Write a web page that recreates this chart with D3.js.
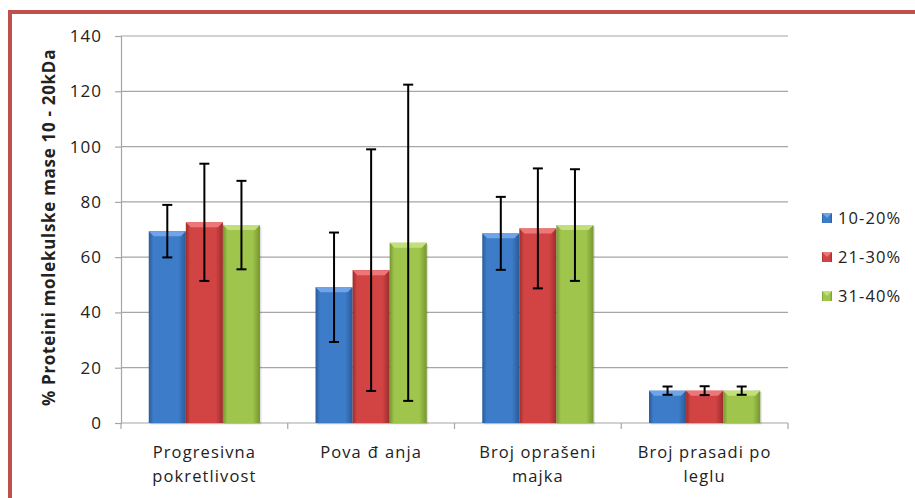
<!DOCTYPE html>
<html lang="sr">
<head>
<meta charset="UTF-8">
<title>Proteini molekulske mase 10 - 20kDa</title>
<script src="https://d3js.org/d3.v7.min.js"></script>
<style>
  body { margin: 0; background: #fff; font-family: "Open Sans", "Liberation Sans", sans-serif; }
  svg text { fill: #222; }
</style>
</head>
<body>
<script>
// data
const categories = ["Progresivna\npokretlivost", "Povađanja", "Broj oprašeni\nmajka", "Broj prasadi po\nleglu"];
const seriesNames = ["10-20%", "21-30%", "31-40%"];
const s1020 = [69.4, 49.1, 68.6, 11.7];
const s2130 = [72.6, 55.3, 70.4, 11.7];
const s3140 = [71.6, 65.2, 71.6, 11.7];
const err1020 = [9.5, 19.8, 13.2, 1.5];
const err2130 = [21.2, 43.7, 21.7, 1.6];
const err3140 = [16.0, 57.2, 20.2, 1.5];
const yTicks = [0, 20, 40, 60, 80, 100, 120, 140];

const W = 915, H = 498;
const plotL = 121, plotR = 788, plotT = 36, plotB = 423;
const font = "Open Sans, sans-serif";
const colors = [
  { base: "#3d7cc9", light: "#6fa4e8", dark: "#2a5a98" },
  { base: "#d24444", light: "#ef7676", dark: "#9c2c2c" },
  { base: "#9fc54c", light: "#c2e07a", dark: "#76962f" }
];

const svg = d3.select("body").append("svg")
  .attr("width", W).attr("height", H);

// red frame
svg.append("rect")
  .attr("x", 10).attr("y", 12)
  .attr("width", 1000).attr("height", 1000)
  .attr("fill", "none").attr("stroke", "#c0504d").attr("stroke-width", 4);

const x0 = d3.scaleBand().domain(d3.range(categories.length)).range([plotL, plotR]).paddingInner(0).paddingOuter(0);
const groupW = x0.bandwidth() * 0.667;
const x1 = d3.scaleBand().domain(d3.range(3)).range([0, groupW]);
const y = d3.scaleLinear().domain([0, 140]).range([plotB, plotT]);

// gradients
const defs = svg.append("defs");
colors.forEach((c, i) => {
  const g = defs.append("linearGradient").attr("id", "g" + i)
    .attr("x1", "0%").attr("x2", "100%");
  g.append("stop").attr("offset", "0%").attr("stop-color", c.dark);
  g.append("stop").attr("offset", "12%").attr("stop-color", c.base);
  g.append("stop").attr("offset", "80%").attr("stop-color", c.base);
  g.append("stop").attr("offset", "100%").attr("stop-color", c.dark);
});

// gridlines
svg.append("g").selectAll("line").data(yTicks.slice(1)).join("line")
  .attr("x1", plotL).attr("x2", plotR)
  .attr("y1", d => y(d)).attr("y2", d => y(d))
  .attr("stroke", "#a6a6a6").attr("stroke-width", 1.2);

// y axis
const yAxis = svg.append("g")
  .attr("transform", `translate(${plotL},0)`)
  .call(d3.axisLeft(y).tickValues(yTicks).tickSize(6).tickPadding(13));
yAxis.select(".domain").attr("stroke", "#a6a6a6").attr("stroke-width", 1.2);
yAxis.selectAll(".tick line").attr("stroke", "#a6a6a6").attr("stroke-width", 1.2);
yAxis.selectAll(".tick text")
  .style("font-family", font).style("font-size", "17px").style("letter-spacing", "1px").attr("fill", "#222");

// x axis
svg.append("line").attr("x1", plotL).attr("x2", plotR)
  .attr("y1", plotB).attr("y2", plotB)
  .attr("stroke", "#a6a6a6").attr("stroke-width", 1.2);
svg.append("g").selectAll("line").data(d3.range(categories.length + 1)).join("line")
  .attr("x1", d => plotL + d * x0.bandwidth()).attr("x2", d => plotL + d * x0.bandwidth())
  .attr("y1", plotB).attr("y2", plotB + 6)
  .attr("stroke", "#a6a6a6").attr("stroke-width", 1.2);

// bars
const series = [s1020, s2130, s3140];
const errs = [err1020, err2130, err3140];
series.forEach((vals, si) => {
  const g = svg.append("g");
  vals.forEach((v, ci) => {
    const bx = x0(ci) + (x0.bandwidth() - groupW) / 2 + x1(si);
    const bw = x1.bandwidth();
    const by = y(v);
    g.append("rect").attr("x", bx + 1.5).attr("y", by + 1.5)
      .attr("width", bw).attr("height", plotB - by)
      .attr("fill", "#000").attr("opacity", 0.12);
    g.append("rect").attr("x", bx).attr("y", by)
      .attr("width", bw).attr("height", plotB - by)
      .attr("fill", `url(#g${si})`);
    // top bevel
    g.append("path")
      .attr("d", `M${bx},${by}L${bx + bw},${by}L${bx + bw - 5},${by + 5}L${bx + 5},${by + 5}Z`)
      .attr("fill", colors[si].light);
  });
});

// error bars
series.forEach((vals, si) => {
  const g = svg.append("g").attr("stroke", "#000").attr("stroke-width", 2);
  vals.forEach((v, ci) => {
    const cx = x0(ci) + (x0.bandwidth() - groupW) / 2 + x1(si) + x1.bandwidth() / 2;
    const e = errs[si][ci];
    const yt = y(v + e), yb = y(v - e);
    g.append("line").attr("x1", cx).attr("x2", cx).attr("y1", yt).attr("y2", yb);
    g.append("line").attr("x1", cx - 5).attr("x2", cx + 5).attr("y1", yt).attr("y2", yt);
    g.append("line").attr("x1", cx - 5).attr("x2", cx + 5).attr("y1", yb).attr("y2", yb);
  });
});

// category labels (the đ is drawn with a gap on both sides, as in the original)
const catG = svg.append("g").style("font-family", font).style("font-size", "16.5px").style("letter-spacing", "1.1px");
categories.forEach((c, ci) => {
  const cx = x0(ci) + x0.bandwidth() / 2;
  const t = catG.append("text").attr("text-anchor", "middle").attr("fill", "#222");
  c.split("\n").forEach((line, li) => {
    const parts = line.split(/(đ)/);
    parts.forEach((p, pi) => {
      const ts = t.append("tspan").text(p);
      if (pi === 0) ts.attr("x", cx).attr("y", 458 + li * 24);
      else ts.attr("dx", 6);
    });
  });
});

// y axis title
svg.append("text")
  .attr("transform", `translate(55,${(plotT + plotB) / 2 - 2}) rotate(-90)`)
  .attr("text-anchor", "middle")
  .style("font-family", font).style("font-size", "17px").style("font-weight", "bold")
  .style("letter-spacing", "0.7px")
  .text("% Proteini molekulske mase 10 - 20kDa");

// legend
const leg = svg.append("g").style("font-family", font).style("font-size", "16.5px").style("letter-spacing", "1.1px");
seriesNames.forEach((n, i) => {
  const ly = 218 + i * 39;
  leg.append("rect").attr("x", 822).attr("y", ly - 5).attr("width", 10).attr("height", 10)
    .attr("fill", `url(#g${i})`);
  leg.append("path").attr("d", `M822,${ly - 5}L832,${ly - 5}L827,${ly}Z`).attr("fill", colors[i].light);
  leg.append("text").attr("x", 838).attr("y", ly).attr("dy", "0.35em").attr("fill", "#222").text(n);
});
</script>
</body>
</html>
